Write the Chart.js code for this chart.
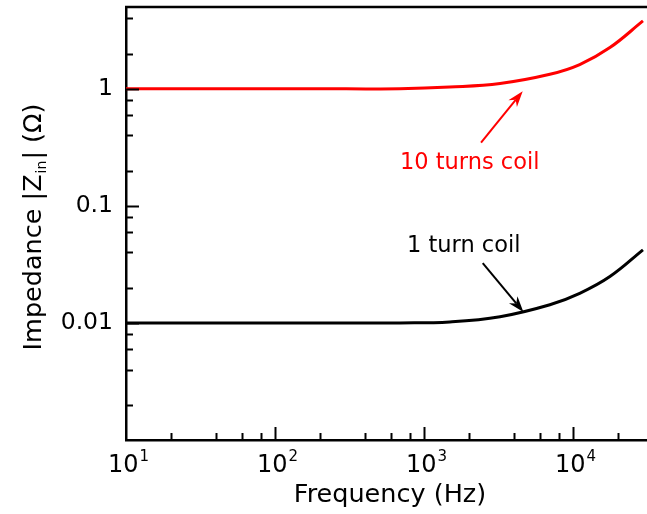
<!DOCTYPE html>
<html>
<head>
<meta charset="utf-8">
<script src="https://cdn.jsdelivr.net/npm/chart.js@4.4.1/dist/chart.umd.min.js"></script>
<style>
  html, body { margin: 0; padding: 0; background: #fff; }
  #wrap { width: 647px; height: 514px; }
</style>
</head>
<body>
<div id="wrap"><canvas id="impChart" width="647" height="514"></canvas></div>
<script>
// ========== DATA ==========
const freqs  = [10, 100, 300, 690, 1490, 3240, 7000, 11100, 17700, 29500];
const zRed   = [1.0, 1.0, 1.0, 1.0, 1.035, 1.11, 1.33, 1.61, 2.25, 3.8];
const zBlack = [0.01, 0.01, 0.01, 0.01, 0.0102, 0.0113, 0.0143, 0.0179, 0.0249, 0.0421];

const xTickValues = [20, 40, 60, 80, 100, 200, 400, 600, 800, 1000, 2000, 4000, 6000, 8000, 10000, 20000];
const xMajor = [10, 100, 1000, 10000];
const xExponents = ['1', '2', '3', '4'];

const yTickValues = [0.002, 0.004, 0.006, 0.008, 0.01, 0.02, 0.04, 0.06, 0.08, 0.1, 0.2, 0.4, 0.6, 0.8, 1, 2, 4];
const yMajor = [0.01, 0.1, 1];
const yLabels = ['0.01', '0.1', '1'];

const FONT = '"DejaVu Sans", Verdana, sans-serif';

// annotations, in data units: [text, freq, impedance, colour]
const notes = [
    ['10 turns coil', 690, 0.23, '#ff0000'],
    ['1 turn coil', 769, 0.0449, '#000000']
];
// arrows: [tailFreq, tailZ, headFreq, headZ, colour]
const arrows = [
    [2415, 0.347, 4600, 0.955, '#ff0000'],
    [2480, 0.0325, 4650, 0.0124, '#000000']
];

const toPoints = (xs, ys) => xs.map((x, i) => ({ x: x, y: ys[i] }));

// ========== CUSTOM DRAWING ==========
function drawArrow(ctx, x1, y1, x2, y2, color) {
    const ang = Math.atan2(y2 - y1, x2 - x1);
    const len = 16, half = 5.5;
    ctx.save();
    ctx.strokeStyle = color;
    ctx.fillStyle = color;
    ctx.lineWidth = 2;
    ctx.beginPath();
    ctx.moveTo(x1, y1);
    ctx.lineTo(x2 - Math.cos(ang) * len * 0.7, y2 - Math.sin(ang) * len * 0.7);
    ctx.stroke();
    ctx.beginPath();
    ctx.moveTo(x2, y2);
    ctx.lineTo(x2 - Math.cos(ang) * len - Math.sin(ang) * half, y2 - Math.sin(ang) * len + Math.cos(ang) * half);
    ctx.lineTo(x2 - Math.cos(ang) * len * 0.7, y2 - Math.sin(ang) * len * 0.7);
    ctx.lineTo(x2 - Math.cos(ang) * len + Math.sin(ang) * half, y2 - Math.sin(ang) * len - Math.cos(ang) * half);
    ctx.closePath();
    ctx.fill();
    ctx.restore();
}

const framePlugin = {
    id: 'frame',
    afterDraw(chart) {
        const ctx = chart.ctx;
        const area = chart.chartArea;
        const xs = chart.scales.x, ys = chart.scales.y;

        ctx.save();
        ctx.strokeStyle = '#000';
        ctx.lineWidth = 2.5;

        // top border
        ctx.beginPath();
        ctx.moveTo(area.left - 1, area.top);
        ctx.lineTo(area.right, area.top);
        ctx.stroke();

        // inward ticks, x
        ctx.lineWidth = 2;
        xTickValues.forEach(v => {
            const px = Math.round(xs.getPixelForValue(v)) + 0.5;
            const l = xMajor.includes(v) ? 13 : 7;
            ctx.beginPath();
            ctx.moveTo(px, area.bottom);
            ctx.lineTo(px, area.bottom - l);
            ctx.stroke();
        });
        // inward ticks, y
        yTickValues.forEach(v => {
            const py = Math.round(ys.getPixelForValue(v)) + 0.5;
            const l = yMajor.includes(v) ? 13 : 7;
            ctx.beginPath();
            ctx.moveTo(area.left, py);
            ctx.lineTo(area.left + l, py);
            ctx.stroke();
        });

        // x labels with superscripts
        ctx.fillStyle = '#000';
        ctx.textBaseline = 'alphabetic';
        xMajor.forEach((v, i) => {
            const px = xs.getPixelForValue(v);
            ctx.font = '24px ' + FONT;
            const w1 = ctx.measureText('10').width;
            ctx.font = '15px ' + FONT;
            const w2 = ctx.measureText(xExponents[i]).width;
            const left = px - (w1 + w2) / 2 + 2;
            ctx.font = '24px ' + FONT;
            ctx.textAlign = 'left';
            ctx.fillText('10', left, 472);
            ctx.font = '15px ' + FONT;
            ctx.fillText(xExponents[i], left + w1 + 1, 461);
        });

        // x title
        ctx.font = '25.5px ' + FONT;
        ctx.textAlign = 'center';
        ctx.fillText('Frequency (Hz)', 390, 502);

        // y title with subscript
        ctx.save();
        ctx.translate(41, 227);
        ctx.rotate(-Math.PI / 2);
        const partA = 'Impedance |Z', partB = 'in', partC = '| (\u03A9)';
        ctx.font = '25.5px ' + FONT;
        const wa = ctx.measureText(partA).width;
        const wc = ctx.measureText(partC).width;
        ctx.font = '14px ' + FONT;
        const wb = ctx.measureText(partB).width;
        let x0 = -(wa + wb + wc + 2) / 2;
        ctx.textAlign = 'left';
        ctx.font = '25.5px ' + FONT;
        ctx.fillText(partA, x0, 0);
        ctx.font = '14px ' + FONT;
        ctx.fillText(partB, x0 + wa + 1, 5);
        ctx.font = '25.5px ' + FONT;
        ctx.fillText(partC, x0 + wa + wb + 2, 0);
        ctx.restore();

        // annotations
        notes.forEach(n => {
            ctx.font = '22.5px ' + FONT;
            ctx.fillStyle = n[3];
            ctx.textAlign = 'left';
            ctx.textBaseline = 'middle';
            ctx.fillText(n[0], xs.getPixelForValue(n[1]), ys.getPixelForValue(n[2]));
        });
        arrows.forEach(a => {
            drawArrow(ctx,
                xs.getPixelForValue(a[0]), ys.getPixelForValue(a[1]),
                xs.getPixelForValue(a[2]), ys.getPixelForValue(a[3]), a[4]);
        });
        ctx.restore();
    }
};

// ========== CHART ==========
const ctx = document.getElementById('impChart').getContext('2d');
const impChart = new Chart(ctx, {
    type: 'line',
    data: {
        datasets: [
            {
                label: '10 turns coil',
                data: toPoints(freqs, zRed),
                borderColor: '#ff0000',
                borderWidth: 3,
                pointRadius: 0,
                tension: 0.4,
                fill: false
            },
            {
                label: '1 turn coil',
                data: toPoints(freqs, zBlack),
                borderColor: '#000000',
                borderWidth: 3,
                pointRadius: 0,
                tension: 0.4,
                fill: false
            }
        ]
    },
    options: {
        responsive: false,
        animation: false,
        devicePixelRatio: 1,
        layout: { padding: { top: 7, right: 0, bottom: 0, left: 0 } },
        plugins: {
            legend: { display: false },
            tooltip: { enabled: false }
        },
        scales: {
            x: {
                type: 'logarithmic',
                position: 'bottom',
                min: 10,
                max: 31400,
                grid: { display: false, drawTicks: false },
                border: { display: true, color: '#000', width: 2.5 },
                ticks: { display: false },
                afterFit: s => {
                    s.height = 74;
                    s.paddingLeft = 0; s.paddingRight = 0;
                }
            },
            y: {
                type: 'logarithmic',
                position: 'left',
                min: 0.001,
                max: 5,
                grid: { display: false, drawTicks: false },
                border: { display: true, color: '#000', width: 2.5 },
                afterBuildTicks: s => { s.ticks = yMajor.map(v => ({ value: v })); },
                ticks: {
                    autoSkip: false,
                    color: '#000',
                    padding: 13,
                    font: { family: FONT, size: 23.5 },
                    callback: v => {
                        const i = yMajor.indexOf(v);
                        return i >= 0 ? yLabels[i] : '';
                    }
                },
                afterFit: s => {
                    s.width = 126;
                    s.paddingTop = 0; s.paddingBottom = 0;
                }
            }
        }
    },
    plugins: [framePlugin]
});
</script>
</body>
</html>
